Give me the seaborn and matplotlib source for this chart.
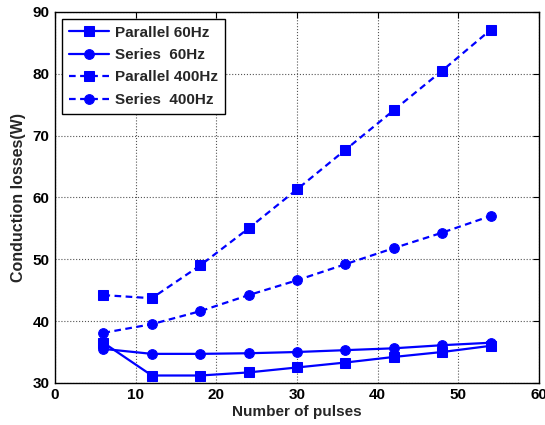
import matplotlib
matplotlib.use("Agg")
import matplotlib.pyplot as plt
import seaborn as sns
import pandas as pd

pulses = [6, 12, 18, 24, 30, 36, 42, 48, 54]
parallel_60 = [36.5, 31.2, 31.2, 31.7, 32.5, 33.3, 34.2, 35.0, 36.0]
series_60 = [35.5, 34.7, 34.7, 34.8, 35.0, 35.3, 35.6, 36.1, 36.5]
parallel_400 = [44.2, 43.7, 49.0, 55.0, 61.3, 67.7, 74.1, 80.5, 87.1]
series_400 = [38.1, 39.5, 41.6, 44.2, 46.6, 49.2, 51.8, 54.3, 57.0]
labels = ["Parallel 60Hz", "Series  60Hz", "Parallel 400Hz", "Series  400Hz"]

sns.set_style("white")
plt.rcParams['font.family'] = ['Liberation Sans', 'DejaVu Sans']
plt.rcParams['font.weight'] = 'bold'

fig = plt.figure(figsize=(5.45, 4.25), dpi=100)
ax = fig.add_axes([0.101, 0.099, 0.888, 0.873])

series = [parallel_60, series_60, parallel_400, series_400]
markers = ["s", "o", "s", "o"]
styles = ["-", "-", "--", "--"]
for vals, lab, m, ls in zip(series, labels, markers, styles):
    df = pd.DataFrame({"x": pulses, "y": vals})
    line = sns.lineplot(data=df, x="x", y="y", ax=ax, color="#0000ff", marker=m,
                        markersize=7, linewidth=1.6, label=lab,
                        markeredgecolor="#0000ff")
    ln = ax.get_lines()[-1]
    if ls == "--":
        ln.set_dashes((3, 2))

ax.set_xlim(0, 60)
ax.set_ylim(30, 90)
ax.set_xticks(range(0, 61, 10))
ax.set_yticks(range(30, 91, 10))
ax.grid(True, linestyle=":", color="#555555", linewidth=0.8)
ax.tick_params(direction="in", top=True, right=True, labelsize=11, length=4,
               colors="black", pad=4)
for lbl in ax.get_xticklabels() + ax.get_yticklabels():
    lbl.set_fontweight("bold")
for s in ax.spines.values():
    s.set_color("black")
    s.set_linewidth(1.0)
ax.set_xlabel("Number of pulses", fontsize=11, fontweight="bold", labelpad=2)
ax.set_ylabel("Conduction losses(W)", fontsize=11.5, fontweight="bold", labelpad=5)

leg = ax.legend(loc="upper left", fontsize=11, frameon=True, fancybox=False,
                edgecolor="black", framealpha=1, borderaxespad=0.45,
                handlelength=2.6, handletextpad=0.4, labelspacing=0.55,
                borderpad=0.45)
leg.get_frame().set_linewidth(1.0)
for t in leg.get_texts():
    t.set_fontweight("bold")
for h in leg.get_lines()[2:]:
    h.set_dashes((3, 2))

fig.savefig("out.png", dpi=100)
